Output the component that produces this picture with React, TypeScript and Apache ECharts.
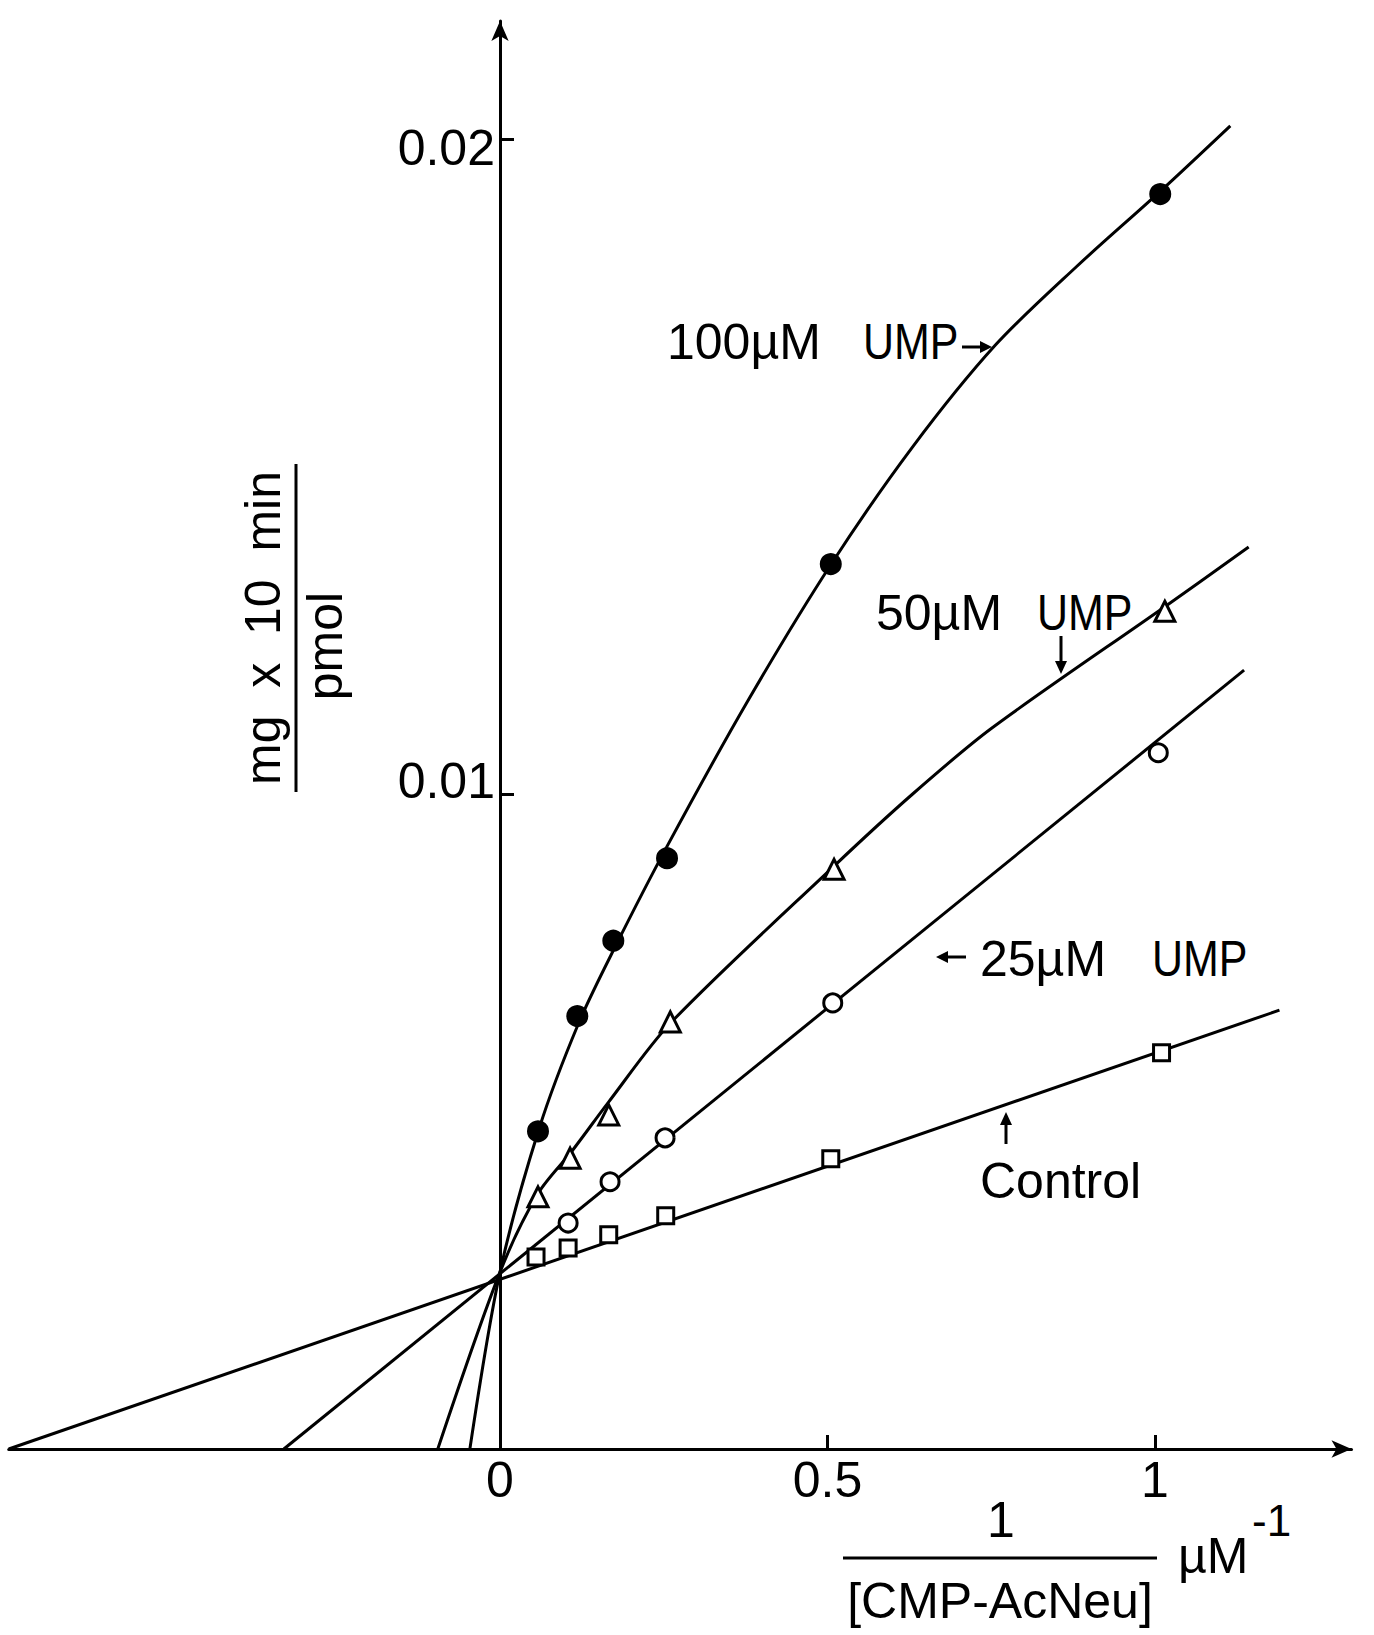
import React, { useEffect, useRef } from "react";
import * as echarts from "echarts";

// ---- tick values ----
const xTickValues = [0.5, 1];
const xLabelValues = [0, 0.5, 1];
const yTickValues = [0.01, 0.02];

// ---- measured points (1/[CMP-AcNeu], mg x 10 min / pmol) ----
const pointsControl = [
  [0.055, 0.00293], [0.104, 0.00307], [0.166, 0.00327], [0.253, 0.00356], [0.505, 0.00443], [1.01, 0.00605],
];
const points25 = [
  [0.104, 0.00345], [0.168, 0.00408], [0.252, 0.00475], [0.508, 0.00681], [1.005, 0.01063],
];
const points50 = [
  [0.058, 0.00385], [0.107, 0.00444], [0.166, 0.0051], [0.26, 0.00652], [0.51, 0.00885], [1.015, 0.01279],
];
const points100 = [
  [0.058, 0.00485], [0.118, 0.00661], [0.173, 0.00776], [0.255, 0.00902], [0.505, 0.01351], [1.008, 0.01916],
];

// ---- drawn fitted lines / curves ----
const fitControl = [[-0.75, 0], [1.19, 0.0067]];
const fit25 = [[-0.33, 0], [1.136, 0.01189]];
const fit50 = [
  [-0.095, 0], [0, 0.0027], [0.058, 0.0039], [0.11, 0.00455], [0.166, 0.0053], [0.26, 0.0065], [0.51, 0.0089],
  [0.63, 0.01], [0.75, 0.011], [1.015, 0.01286], [1.143, 0.01377],
];
const fit100 = [
  [-0.046, 0], [0, 0.0027], [0.06, 0.0049], [0.12, 0.0065], [0.175, 0.00765], [0.255, 0.0092], [0.38, 0.01145],
  [0.505, 0.0135], [0.63, 0.0153], [0.756, 0.01685], [0.88, 0.01805], [1.008, 0.0192], [1.115, 0.0202],
];

const FONT = '"Liberation Sans", Arial, sans-serif';

// layout: x=0 at 500px, 655 px per unit; y=0 at 1449px, 65500 px per unit
const X0 = 500, XS = 655, Y0 = 1449, YS = 65500;
const X_MIN = -0.75, X_MAX = 1.3, Y_MAX = 0.0218;
// hand-lettered y tick labels sit slightly off their ticks
const Y_LABEL_SHIFT = [-13, 9];

function txt(text: string, x: number, y: number, size = 50, align = "left", extra: any = {}) {
  return {
    type: "text",
    x, y,
    ...extra,
    style: { text, fontSize: size, fontFamily: FONT, fill: "#000", align, verticalAlign: "middle" },
  };
}
function seg(x1: number, y1: number, x2: number, y2: number, w = 3) {
  return { type: "line", shape: { x1, y1, x2, y2 }, style: { stroke: "#000", lineWidth: w } };
}
function tri(p: number[][]) {
  return { type: "polygon", shape: { points: p }, style: { fill: "#000" } };
}

export default function App() {
  const ref = useRef<HTMLDivElement>(null);
  useEffect(() => {
    if (!ref.current) return;
    const chart = echarts.init(ref.current, null, { renderer: "svg" });
    const lineS = (data: number[][], smooth: number) => ({
      type: "line", data, smooth, showSymbol: false, symbol: "none",
      lineStyle: { color: "#000", width: 3 }, z: 2, silent: true,
    });
    const pts = (data: number[][], symbol: string, size: number, fill: string) => ({
      type: "scatter", data, symbol, symbolSize: size,
      itemStyle: { color: fill, borderColor: "#000", borderWidth: 3, opacity: 1 }, z: 5,
    });
    const axisLineStyle = { color: "#000", width: 3 };
    chart.setOption({
      animation: false,
      backgroundColor: "#fff",
      grid: {
        left: X0 + X_MIN * XS,
        top: Y0 - Y_MAX * YS,
        width: (X_MAX - X_MIN) * XS,
        height: Y_MAX * YS,
        containLabel: false,
        outerBoundsMode: "none",
      },
      xAxis: {
        type: "value", min: X_MIN, max: X_MAX,
        axisLine: { onZero: true, symbol: ["none", "arrow"], symbolSize: [13, 20], lineStyle: axisLineStyle },
        axisTick: { show: true, inside: true, length: 14, customValues: xTickValues, lineStyle: axisLineStyle },
        axisLabel: {
          customValues: xLabelValues, formatter: (v: number) => String(v),
          fontSize: 50, fontFamily: FONT, color: "#000", margin: 6,
        },
        splitLine: { show: false },
      },
      yAxis: {
        type: "value", min: 0, max: Y_MAX,
        axisLine: { onZero: true, symbol: ["none", "arrow"], symbolSize: [13, 20], lineStyle: axisLineStyle },
        axisTick: { show: true, inside: true, length: 14, customValues: yTickValues, lineStyle: axisLineStyle },
        axisLabel: { show: false },
        splitLine: { show: false },
      },
      series: [
        lineS(fitControl, 0),
        lineS(fit25, 0),
        lineS(fit50, 0.3),
        lineS(fit100, 0.3),
        pts(pointsControl, "rect", 16, "#fff"),
        pts(points25, "circle", 18, "#fff"),
        pts(points50, "triangle", 20, "#fff"),
        pts(points100, "circle", 19, "#000"),
      ],
    });

    // y tick labels placed next to the y axis (which sits at x = 0)
    const yLabels = yTickValues.map((v, i) => {
      const p = chart.convertToPixel({ gridIndex: 0 }, [0, v]) as number[];
      return txt(v.toFixed(2), p[0] - 5, p[1] + Y_LABEL_SHIFT[i], 50, "right");
    });
    const ump = { scaleX: 0.86 };

    chart.setOption({
      graphic: [
        ...yLabels,
        // curve labels
        txt("100µM", 667, 342),
        txt("UMP", 863, 342, 50, "left", ump),
        seg(962, 347, 982, 347, 3), tri([[992, 347], [980, 341], [980, 353]]),
        txt("50µM", 876, 613),
        txt("UMP", 1037, 613, 50, "left", ump),
        seg(1061, 636, 1061, 662, 3), tri([[1061, 674], [1055, 661], [1067, 661]]),
        seg(946, 957, 966, 957, 3), tri([[936, 957], [948, 951], [948, 963]]),
        txt("25µM", 980, 959),
        txt("UMP", 1152, 959, 50, "left", ump),
        seg(1006, 1144, 1006, 1124, 3), tri([[1006, 1112], [1000, 1125], [1012, 1125]]),
        txt("Control", 980, 1181),
        // x-axis title
        txt("1", 1001, 1520, 50, "center"),
        seg(843, 1558, 1157, 1558, 3),
        txt("[CMP-AcNeu]", 1000, 1601, 50, "center"),
        txt("µM", 1178, 1556, 50, "left"),
        txt("-1", 1252, 1520, 44, "left"),
        // y-axis title
        txt("mg  x  10  min", 263, 628, 50, "center", { rotation: Math.PI / 2 }),
        seg(296, 464, 296, 792, 3),
        txt("pmol", 325, 646, 50, "center", { rotation: Math.PI / 2 }),
      ],
    });
    return () => chart.dispose();
  }, []);
  return (
    <div
      ref={ref}
      style={{ position: "absolute", left: 0, top: 0, width: 1374, height: 1635, background: "#fff" }}
    />
  );
}
